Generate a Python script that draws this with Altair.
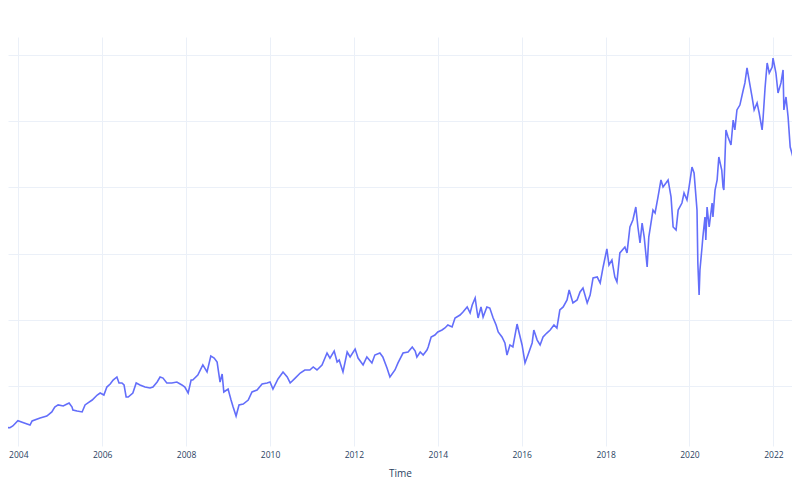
import altair as alt
import pandas as pd

# decimal-year positions
years = [
    2003.56, 2003.80, 2003.87, 2003.99, 2004.21, 2004.28, 2004.33, 2004.52, 2004.68, 2004.80,
    2004.87, 2004.95, 2005.07, 2005.16, 2005.21, 2005.28, 2005.30, 2005.40, 2005.52, 2005.59,
    2005.66, 2005.76, 2005.88, 2005.95, 2006.04, 2006.11, 2006.19, 2006.26, 2006.35, 2006.40,
    2006.47, 2006.52, 2006.57, 2006.62, 2006.73, 2006.81, 2006.90, 2007.02, 2007.14, 2007.21,
    2007.31, 2007.38, 2007.45, 2007.54, 2007.66, 2007.78, 2007.90, 2007.97, 2008.05, 2008.12,
    2008.16, 2008.28, 2008.40, 2008.50, 2008.59, 2008.67, 2008.74, 2008.81, 2008.86, 2008.90,
    2009.00, 2009.07, 2009.12, 2009.19, 2009.26, 2009.36, 2009.48, 2009.57, 2009.69, 2009.81,
    2009.93, 2010.00, 2010.07, 2010.19, 2010.31, 2010.41, 2010.48, 2010.60, 2010.72, 2010.83,
    2010.95, 2011.03, 2011.12, 2011.24, 2011.36, 2011.43, 2011.53, 2011.60, 2011.65, 2011.74,
    2011.84, 2011.91, 2012.03, 2012.10, 2012.22, 2012.31, 2012.43, 2012.50, 2012.62, 2012.69,
    2012.79, 2012.86, 2012.98, 2013.05, 2013.17, 2013.29, 2013.39, 2013.46, 2013.50, 2013.58,
    2013.65, 2013.74, 2013.77, 2013.84, 2013.93, 2014.00, 2014.10, 2014.17, 2014.24, 2014.34,
    2014.41, 2014.53, 2014.60, 2014.70, 2014.77, 2014.82, 2014.89, 2014.93, 2014.96, 2015.03,
    2015.08, 2015.17, 2015.24, 2015.32, 2015.39, 2015.44, 2015.53, 2015.60, 2015.65, 2015.72,
    2015.79, 2015.89, 2015.94, 2016.01, 2016.08, 2016.15, 2016.25, 2016.29, 2016.37, 2016.44,
    2016.51, 2016.60, 2016.68, 2016.77, 2016.84, 2016.91, 2016.99, 2017.08, 2017.13, 2017.22,
    2017.32, 2017.39, 2017.46, 2017.56, 2017.63, 2017.70, 2017.80, 2017.87, 2017.94, 2018.03,
    2018.08, 2018.15, 2018.22, 2018.27, 2018.34, 2018.46, 2018.51, 2018.58, 2018.65, 2018.72,
    2018.77, 2018.82, 2018.87, 2018.92, 2018.99, 2019.03, 2019.13, 2019.18, 2019.25, 2019.32,
    2019.37, 2019.44, 2019.49, 2019.56, 2019.61, 2019.68, 2019.73, 2019.82, 2019.87, 2019.94,
    2019.99, 2020.06, 2020.11, 2020.18, 2020.20, 2020.23, 2020.25, 2020.30, 2020.32, 2020.37,
    2020.39, 2020.42, 2020.47, 2020.54, 2020.56, 2020.61, 2020.66, 2020.70, 2020.77, 2020.80,
    2020.82, 2020.87, 2020.92, 2020.99, 2021.04, 2021.08, 2021.13, 2021.20, 2021.28, 2021.32,
    2021.37, 2021.42, 2021.49, 2021.54, 2021.61, 2021.66, 2021.73, 2021.75, 2021.80, 2021.85,
    2021.90, 2021.97, 2021.99, 2022.06, 2022.11, 2022.18, 2022.23, 2022.25, 2022.30, 2022.35,
    2022.40, 2022.44, 2022.47, 2022.52, 2022.56, 2022.59, 2022.63,
]

# values read against the (unlabelled) horizontal gridlines
values = [
    19.0, 18.5, 19.8, 23.8, 21.3, 20.5, 23.6, 25.8, 27.3, 30.4,
    34.1, 35.7, 34.9, 36.4, 37.2, 34.1, 31.9, 31.1, 30.4, 35.7,
    37.2, 39.4, 43.2, 44.7, 43.2, 49.2, 51.5, 54.5, 56.8, 52.3,
    52.3, 50.8, 41.7, 41.7, 44.7, 52.3, 50.8, 49.2, 48.5, 49.2,
    53.0, 56.8, 56.0, 52.3, 52.3, 53.0, 50.8, 49.2, 44.7, 54.5,
    54.5, 58.3, 65.9, 60.6, 72.7, 71.1, 68.1, 53.0, 59.1, 45.5,
    47.7, 39.4, 34.1, 27.3, 35.7, 36.4, 39.4, 45.5, 47.0, 51.5,
    52.3, 53.0, 47.7, 55.3, 60.6, 56.8, 52.3, 56.0, 59.8, 62.1,
    62.1, 64.4, 62.1, 65.9, 74.9, 71.1, 76.4, 68.1, 69.6, 60.6,
    75.7, 71.9, 77.9, 71.1, 65.9, 71.9, 67.4, 73.4, 74.9, 71.9,
    63.6, 56.8, 62.1, 67.4, 74.9, 75.7, 79.5, 76.4, 71.9, 75.7,
    73.4, 77.2, 79.5, 87.0, 88.5, 90.8, 92.3, 93.8, 96.1, 94.6,
    101.4, 103.6, 105.9, 109.7, 105.1, 111.2, 116.5, 107.4, 101.4, 109.7,
    102.1, 109.7, 108.9, 101.4, 96.1, 90.8, 87.0, 82.5, 73.4, 81.0,
    79.5, 96.8, 90.0, 81.0, 67.4, 73.4, 82.5, 92.3, 84.7, 81.0,
    87.0, 90.0, 92.3, 96.1, 93.8, 107.4, 109.7, 115.0, 122.5, 112.7,
    115.0, 121.0, 124.0, 112.7, 118.7, 131.6, 132.3, 127.8, 139.9, 153.5,
    141.4, 145.2, 132.3, 128.6, 150.5, 155.0, 150.5, 170.1, 175.4, 185.2,
    170.1, 158.0, 173.1, 162.5, 139.9, 162.5, 182.9, 180.7, 192.8, 205.6,
    200.3, 203.3, 205.6, 192.8, 170.1, 167.8, 182.9, 188.2, 195.8, 190.5,
    200.3, 215.4, 210.9, 182.9, 142.9, 118.7, 137.6, 155.0, 162.5, 177.6,
    160.3, 185.2, 170.1, 188.2, 177.6, 198.0, 205.6, 223.0, 213.1, 200.3,
    198.0, 243.4, 238.1, 232.0, 250.9, 243.4, 258.5, 262.2, 273.6, 278.9,
    290.2, 281.1, 268.3, 258.5, 263.8, 256.2, 243.4, 250.9, 275.1, 294.0,
    286.4, 290.9, 297.7, 286.4, 271.3, 278.9, 288.7, 258.5, 268.3, 253.2,
    230.5, 226.0, 222.2, 230.5, 248.6, 258.5, 262.2,
]

grid_values = [50, 100, 150, 200, 250, 300]
tick_years = [2004, 2006, 2008, 2010, 2012, 2014, 2016, 2018, 2020, 2022]
x_range = [2003.7545, 2022.4431]   # visible part of the time axis


def to_date(y):
    whole = int(y)
    start = pd.Timestamp(year=whole, month=1, day=1)
    return start + pd.to_timedelta((y - whole) * 365.25, unit="D")


def to_dt(y):
    t = to_date(y)
    return alt.DateTime(year=t.year, month=t.month, date=t.day,
                        hours=t.hour, minutes=t.minute)


df = pd.DataFrame({"Time": [to_date(y) for y in years], "value": values})

text_color = "#2a3f5f"
grid_color = "#EBF0F8"

chart = alt.Chart(df).mark_line(
    color="#636efa", strokeWidth=1.6, clip=True
).encode(
    x=alt.X(
        "Time:T",
        scale=alt.Scale(domain=[to_dt(x_range[0]), to_dt(x_range[1])]),
        axis=alt.Axis(
            values=[alt.DateTime(year=y, month=1, date=1) for y in tick_years],
            format="%Y", labelFont="Open Sans", labelFontSize=8.5,
            labelColor=text_color, labelPadding=4, ticks=False, domain=False,
            gridColor=grid_color, gridWidth=1,
            title="Time", titleFont="Open Sans", titleFontSize=10,
            titleFontWeight="normal", titleColor=text_color,
            titleBaseline="middle", titleY=27,
        ),
    ),
    y=alt.Y(
        "value:Q",
        scale=alt.Scale(domain=[4.68, 313.6], nice=False, zero=False),
        axis=alt.Axis(values=grid_values, labels=False, ticks=False, domain=False,
                      gridColor=grid_color, gridWidth=1, title=None),
    ),
).properties(
    width=784, height=409,
    padding={"left": 0, "top": 29, "right": 0, "bottom": 38},
    autosize=alt.AutoSizeParams(type="none"),
    background="white",
).configure_view(stroke=None)

chart.save("out.html", embed_options={"renderer": "svg", "actions": False})
